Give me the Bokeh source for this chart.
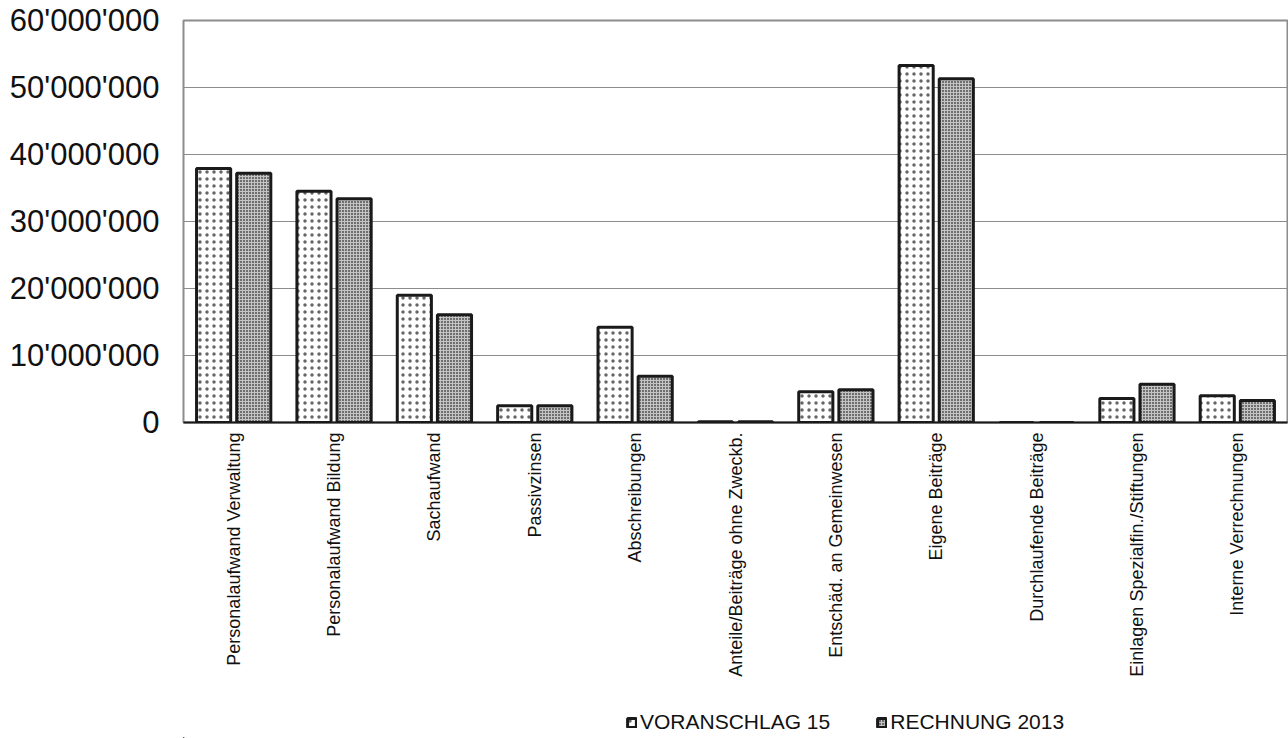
from bokeh.plotting import figure
from bokeh.layouts import column
from bokeh.models import ColumnDataSource, FactorRange, FixedTicker, Legend, LegendItem, Range1d
from bokeh.transform import dodge
from bokeh.embed import file_html
from bokeh.resources import INLINE
from math import pi

categories = [
    "Personalaufwand Verwaltung",
    "Personalaufwand Bildung",
    "Sachaufwand",
    "Passivzinsen",
    "Abschreibungen",
    "Anteile/Beiträge ohne Zweckb.",
    "Entschäd. an Gemeinwesen",
    "Eigene Beiträge",
    "Durchlaufende Beiträge",
    "Einlagen Spezialfin./Stiftungen",
    "Interne Verrechnungen",
]
voranschlag_15 = [37900000, 34500000, 19000000, 2500000, 14200000, 100000,
                  4600000, 53300000, 0, 3600000, 4000000]
rechnung_2013 = [37200000, 33400000, 16100000, 2500000, 6900000, 100000,
                 4900000, 51300000, 0, 5700000, 3300000]
y_ticks = [0, 10000000, 20000000, 30000000, 40000000, 50000000, 60000000]
y_tick_labels = ["0", "10'000'000", "20'000'000", "30'000'000",
                 "40'000'000", "50'000'000", "60'000'000"]
series_names = ["VORANSCHLAG 15", "RECHNUNG 2013"]

source = ColumnDataSource(dict(cat=categories, v15=voranschlag_15, r13=rechnung_2013))

FONT = "Liberation Sans"

# bar styles shared by the chart and the legend strip
STYLE_V = dict(fill_color="white", line_color="#1a1a1a", line_width=3,
               hatch_pattern="dot", hatch_color="#666666", hatch_scale=7, hatch_weight=2.2)
STYLE_R = dict(fill_color="#6f6f6f", line_color="#1a1a1a", line_width=3,
               hatch_pattern="cross", hatch_color="#c4c4c4", hatch_scale=3, hatch_weight=1)

p = figure(
    x_range=FactorRange(*categories, range_padding=0),
    y_range=Range1d(0, 60000000),
    frame_width=1104, frame_height=402,
    output_backend="svg", toolbar_location=None,
    min_border_left=183, min_border_right=1,
    min_border_top=20, min_border_bottom=278,
)
p.background_fill_color = "white"
p.border_fill_color = "white"
p.outline_line_color = "#8c8c8c"
p.outline_line_width = 2

p.vbar(x=dodge("cat", -0.2, range=p.x_range), top="v15", width=0.34, source=source, **STYLE_V)
p.vbar(x=dodge("cat", 0.2, range=p.x_range), top="r13", width=0.34, source=source, **STYLE_R)

# y axis
p.yaxis.ticker = FixedTicker(ticks=y_ticks)
p.yaxis.major_label_overrides = {t: l for t, l in zip(y_ticks, y_tick_labels)}
p.yaxis.axis_line_color = None
p.yaxis.major_tick_line_color = None
p.yaxis.major_tick_out = 0
p.yaxis.minor_tick_line_color = None
p.yaxis.major_label_standoff = 24
p.yaxis.major_label_text_font = FONT
p.yaxis.major_label_text_font_size = "31px"
p.yaxis.major_label_text_color = "#111111"

# x axis
p.xaxis.axis_line_color = "#1a1a1a"
p.xaxis.axis_line_width = 2
p.xaxis.major_tick_line_color = None
p.xaxis.major_tick_out = 0
p.xaxis.minor_tick_line_color = None
p.xaxis.axis_label_standoff = 0
p.xaxis.major_label_orientation = pi / 2
p.xaxis.major_label_standoff = 10
p.xaxis.major_label_text_font = FONT
p.xaxis.major_label_text_font_size = "18px"
p.xaxis.major_label_text_color = "#111111"

p.xgrid.grid_line_color = None
p.ygrid.grid_line_color = "#8c8c8c"
p.ygrid.grid_line_width = 1

# legend strip underneath the chart; its zero-size proxy bars sit outside the view
leg = figure(width=1288, height=38, output_backend="svg", toolbar_location=None,
             min_border=0, x_axis_location=None, y_axis_location=None,
             x_range=Range1d(1, 2), y_range=Range1d(1, 2))
leg.grid.visible = False
leg.outline_line_color = None
leg.border_fill_color = "white"
lv = leg.vbar(x=[0], top=[0], width=0, **STYLE_V)
lr = leg.vbar(x=[0], top=[0], width=0, **STYLE_R)
legend = Legend(
    items=[LegendItem(label=series_names[0], renderers=[lv]),
           LegendItem(label=series_names[1], renderers=[lr])],
    orientation="horizontal", location=(443, 4),
    label_text_font=FONT, label_text_font_size="21px", label_text_color="#111111",
    glyph_width=11, glyph_height=11, spacing=46, label_standoff=3,
    border_line_color=None, background_fill_alpha=0, margin=0, padding=2,
)
leg.add_layout(legend)

open("out.html", "w").write(file_html(column(p, leg, spacing=0), INLINE))
